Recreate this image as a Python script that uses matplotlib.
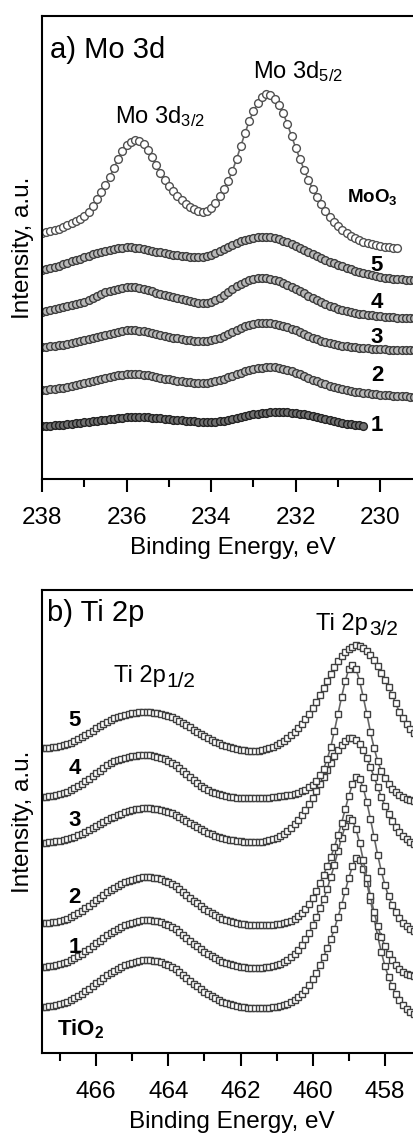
import matplotlib
matplotlib.use("Agg")
import matplotlib.pyplot as plt
import numpy as np

plt.rcParams["font.family"] = ["Liberation Sans", "DejaVu Sans"]
plt.rcParams["mathtext.fontset"] = "custom"
plt.rcParams["mathtext.rm"] = "Liberation Sans"
plt.rcParams["mathtext.it"] = "Liberation Sans:italic"
plt.rcParams["mathtext.bf"] = "Liberation Sans:bold"

# ---- a) Mo 3d, sampled every 0.1 eV starting at 238.0 eV ----
MO_START = 238.0
mo_moo3 = [246, 247, 248, 249, 250, 252, 254, 256, 258, 260,
           263, 267, 273, 280, 287, 294, 302, 311, 320, 328,
           334, 337, 339, 338, 335, 329, 322, 314, 306, 299,
           293, 288, 283, 279, 275, 272, 270, 268, 267, 268,
           271, 276, 283, 290, 298, 308, 320, 333, 346, 358,
           368, 376, 382, 385, 384, 380, 374, 366, 355, 343,
           331, 320, 309, 299, 290, 282, 275, 268, 262, 257,
           253, 249, 246, 243, 241, 239, 237, 236, 235, 234,
           233, 232, 232, 231, 231]
mo_5 = [209, 210, 211, 212, 213, 215, 216, 218, 219, 220,
        222, 223, 225, 226, 227, 228, 229, 230, 231, 231,
        232, 232, 231, 231, 230, 229, 228, 227, 227, 226,
        225, 224, 224, 223, 223, 222, 222, 222, 222, 223,
        224, 226, 228, 230, 232, 234, 236, 238, 239, 240,
        241, 242, 242, 242, 242, 241, 240, 238, 237, 235,
        233, 231, 229, 227, 225, 223, 221, 219, 217, 216,
        214, 213, 211, 210, 208, 207, 206, 205, 204, 203,
        202, 201, 201, 200, 200, 200, 199, 199, 199, 199, 199]
mo_4 = [167, 168, 169, 170, 171, 172, 173, 174, 175, 176,
        177, 179, 181, 183, 185, 187, 188, 189, 190, 191,
        192, 192, 192, 191, 190, 189, 188, 186, 185, 184,
        183, 182, 181, 180, 179, 178, 177, 176, 176, 176,
        177, 179, 181, 184, 187, 190, 193, 195, 197, 199,
        200, 201, 201, 201, 200, 199, 198, 196, 194, 192,
        190, 188, 186, 183, 181, 179, 177, 175, 173, 172,
        170, 169, 168, 167, 166, 165, 165, 164, 164, 163,
        163, 162, 162, 162, 161, 161, 161, 161, 161, 161, 161]
mo_3 = [132, 132, 133, 133, 134, 134, 135, 136, 137, 138,
        139, 140, 141, 142, 143, 144, 145, 146, 147, 148,
        149, 149, 149, 148, 148, 147, 146, 145, 144, 143,
        142, 141, 141, 140, 139, 139, 138, 138, 138, 138,
        139, 140, 141, 143, 145, 147, 149, 151, 153, 154,
        155, 156, 156, 156, 156, 155, 154, 153, 152, 150,
        149, 147, 145, 143, 141, 140, 138, 137, 136, 135,
        134, 133, 133, 132, 132, 131, 131, 131, 130, 130,
        130, 130, 129, 129, 129, 129, 129, 129, 129, 129, 129]
mo_2 = [89, 89, 90, 90, 91, 91, 92, 93, 94, 95,
        96, 97, 98, 99, 100, 101, 102, 103, 104, 104,
        105, 105, 105, 105, 104, 104, 103, 102, 101, 100,
        100, 99, 98, 98, 97, 97, 96, 96, 96, 96,
        97, 98, 99, 100, 102, 103, 105, 106, 108, 109,
        110, 111, 111, 112, 112, 112, 111, 110, 109, 108,
        106, 105, 103, 101, 99, 98, 96, 95, 93, 92,
        91, 90, 89, 88, 87, 87, 86, 86, 85, 85,
        84, 84, 84, 83, 83, 83, 83, 82, 82, 82, 82]
mo_1 = [53, 53, 53, 54, 54, 54, 55, 55, 56, 56,
        57, 57, 58, 58, 59, 59, 60, 60, 61, 61,
        62, 62, 62, 62, 62, 62, 61, 61, 61, 60,
        60, 59, 59, 59, 58, 58, 58, 57, 57, 57,
        57, 57, 58, 58, 59, 60, 61, 62, 63, 64,
        65, 65, 66, 66, 67, 67, 67, 67, 67, 66,
        66, 65, 65, 64, 63, 62, 61, 60, 59, 58,
        57, 56, 55, 55, 54, 54, 53]

# ---- b) Ti 2p, sampled every 0.1 eV starting at 467.5 eV ----
TI_START = 467.5
ti_tio2 = [46, 46, 47, 47, 48, 49, 50, 51, 53, 55,
           57, 59, 62, 64, 67, 70, 72, 75, 78, 80,
           82, 84, 86, 88, 89, 90, 91, 92, 93, 93,
           93, 92, 92, 91, 89, 88, 86, 84, 81, 78,
           75, 72, 69, 67, 64, 61, 59, 57, 55, 53,
           51, 50, 49, 48, 47, 46, 46, 45, 45, 45,
           45, 45, 45, 45, 46, 46, 47, 48, 49, 51,
           53, 56, 59, 63, 68, 74, 80, 88, 96, 105,
           114, 124, 136, 148, 162, 175, 187, 195, 193, 184,
           170, 153, 135, 117, 101, 87, 76, 67, 59, 53,
           48, 44, 41, 39]
ti_1 = [86, 86, 87, 87, 88, 89, 90, 91, 93, 95,
        97, 99, 102, 104, 107, 110, 112, 115, 118, 120,
        122, 124, 126, 128, 129, 130, 131, 132, 133, 133,
        133, 132, 132, 131, 129, 128, 126, 124, 121, 118,
        115, 112, 109, 107, 104, 101, 99, 97, 95, 93,
        91, 90, 89, 88, 87, 86, 86, 85, 85, 85,
        85, 85, 86, 86, 87, 88, 89, 91, 93, 96,
        99, 103, 108, 114, 120, 128, 136, 145, 154, 164,
        176, 188, 202, 215, 227, 235, 233, 224, 210, 193,
        175, 157, 141, 127, 116, 107, 99, 93, 88, 84,
        81, 79, 78, 77]
ti_2 = [130, 130, 130, 131, 131, 132, 133, 134, 136, 138,
        140, 142, 145, 147, 150, 153, 155, 158, 161, 163,
        165, 167, 169, 171, 172, 173, 174, 175, 176, 176,
        176, 175, 175, 174, 172, 171, 169, 167, 164, 161,
        158, 155, 152, 150, 147, 144, 142, 140, 138, 136,
        134, 133, 132, 131, 130, 129, 129, 128, 128, 128,
        128, 128, 128, 128, 128, 129, 129, 130, 131, 132,
        134, 137, 140, 144, 149, 155, 162, 170, 178, 187,
        196, 206, 218, 230, 244, 257, 269, 276, 274, 265,
        251, 234, 216, 198, 182, 168, 157, 148, 141, 135,
        130, 127, 124, 122]
ti_3 = [210, 210, 211, 211, 212, 212, 213, 214, 215, 216,
        218, 219, 221, 223, 225, 227, 229, 231, 233, 235,
        236, 238, 239, 241, 242, 243, 244, 244, 245, 245,
        245, 244, 244, 243, 242, 241, 240, 238, 236, 234,
        232, 230, 228, 226, 224, 222, 220, 219, 217, 216,
        215, 214, 213, 213, 212, 212, 211, 211, 211, 211,
        211, 211, 212, 213, 214, 215, 217, 219, 222, 225,
        229, 233, 238, 243, 249, 255, 262, 269, 276, 283,
        290, 297, 303, 308, 312, 315, 315, 313, 309, 303,
        295, 286, 276, 266, 256, 247, 239, 232, 226, 221,
        217, 214, 211, 209]
ti_4 = [256, 256, 257, 257, 258, 259, 260, 261, 263, 265,
        267, 269, 272, 274, 277, 280, 282, 285, 288, 290,
        292, 293, 294, 295, 296, 297, 297, 298, 298, 298,
        298, 297, 296, 295, 294, 292, 290, 288, 285, 282,
        279, 276, 273, 270, 267, 265, 263, 261, 260, 259,
        258, 257, 256, 256, 255, 255, 255, 255, 255, 255,
        255, 255, 255, 255, 256, 256, 257, 257, 258, 258,
        259, 260, 262, 263, 266, 268, 272, 278, 284, 294,
        306, 322, 339, 356, 372, 384, 388, 384, 372, 356,
        339, 321, 305, 292, 282, 275, 269, 264, 261, 258,
        256, 254, 253, 252]
ti_5 = [305, 305, 305, 306, 306, 307, 308, 309, 310, 312,
        314, 316, 318, 320, 322, 325, 327, 329, 331, 333,
        335, 336, 337, 338, 339, 340, 340, 341, 341, 341,
        341, 340, 340, 339, 338, 337, 336, 334, 332, 330,
        328, 326, 323, 321, 319, 317, 315, 313, 311, 310,
        308, 307, 306, 305, 304, 303, 303, 302, 302, 302,
        302, 303, 304, 305, 306, 308, 310, 312, 315, 318,
        321, 325, 329, 334, 339, 345, 351, 358, 365, 372,
        379, 386, 392, 397, 401, 404, 406, 408, 407, 405,
        402, 398, 393, 387, 380, 373, 366, 358, 350, 341,
        335, 329, 324, 320]


def energies(start, vals):
    return np.round(start - 0.1 * np.arange(len(vals)), 1)


def sub_label(ax, x, y, main, sub, size, subsize):
    # main text plus a large subscript placed right after it
    t = ax.text(x, y, main, fontsize=size, ha="left", va="baseline")
    ax.annotate(sub, xy=(1, 0), xycoords=t, xytext=(0.5, -2.5),
                textcoords="offset points", fontsize=subsize,
                ha="left", va="bottom")


fig = plt.figure(figsize=(4.14, 11.33), dpi=100)
ax1 = fig.add_axes([0.1014, 0.5772, 0.9196, 0.4086])
ax2 = fig.add_axes([0.1014, 0.0706, 0.9155, 0.4086])

edge = "#3c3c3c"
for vals, face, ec in [(mo_1, "#707070", "#222222"), (mo_2, "#b8b8b8", edge),
                       (mo_3, "#b8b8b8", edge), (mo_4, "#b8b8b8", edge),
                       (mo_5, "#b8b8b8", edge), (mo_moo3, "white", "#505050")]:
    ax1.plot(energies(MO_START, vals), vals, "-", color="#666666", lw=1.2,
             marker="o", ms=5.6, mfc=face, mec=ec, mew=1.0)

for vals in [ti_tio2, ti_1, ti_2, ti_3, ti_4, ti_5]:
    ax2.plot(energies(TI_START, vals), vals, "-", color="#666666", lw=1.2,
             marker="s", ms=5.0, mfc="white", mec="#404040", mew=1.0)

ax1.set_xlim(238, 229)
ax2.set_xlim(467.5, 457.0)
for ax in (ax1, ax2):
    ax.set_ylim(0, 463)
    ax.set_yticks([])
    ax.spines["right"].set_visible(False)
    for s in ("top", "left", "bottom"):
        ax.spines[s].set_linewidth(1.5)
    ax.tick_params(axis="x", which="major", direction="out", length=9,
                   width=1.5, labelsize=17.5, pad=11)
    ax.tick_params(axis="x", which="minor", direction="out", length=5.5,
                   width=1.5)
    ax.set_xlabel("Binding Energy, eV", fontsize=17.5, labelpad=6)
    ax.set_ylabel("Intensity, a.u.", fontsize=17.5)
    ax.yaxis.set_label_coords(-0.022, 0.5)

ax1.set_xticks([238, 236, 234, 232, 230])
ax1.set_xticks([237, 235, 233, 231, 229], minor=True)
ax2.set_xticks([466, 464, 462, 460, 458])
ax2.set_xticks([467, 465, 463, 461, 459, 457], minor=True)

# panel a annotations
ax1.text(237.81, 429, "a) Mo 3d", fontsize=21, va="center", ha="left")
ax1.text(236.27, 356, r"Mo 3d$_{3/2}$", fontsize=17, ha="left", va="baseline")
ax1.text(233.01, 401, r"Mo 3d$_{5/2}$", fontsize=17, ha="left", va="baseline")
ax1.text(230.79, 277, r"MoO$_{\mathbf{3}}$", fontsize=13.5, fontweight="bold",
         ha="left", va="baseline")
for lab, y in [("5", 214), ("4", 177), ("3", 142), ("2", 104), ("1", 54)]:
    ax1.text(230.08, y, lab, fontsize=16, fontweight="bold",
             ha="center", va="center")

# panel b annotations
ax2.text(467.35, 440, "b) Ti 2p", fontsize=21, va="center", ha="left")
sub_label(ax2, 459.9, 423, "Ti 2p", "3/2", 17, 15)
sub_label(ax2, 465.5, 371, "Ti 2p", "1/2", 17, 15)
for lab, y in [("5", 333), ("4", 285), ("3", 233), ("2", 156), ("1", 106)]:
    ax2.text(466.6, y, lab, fontsize=16, fontweight="bold",
             ha="center", va="center")
ax2.text(467.08, 18, r"TiO$_{\mathbf{2}}$", fontsize=16, fontweight="bold",
         ha="left", va="baseline")

fig.savefig("out.png", dpi=100)
